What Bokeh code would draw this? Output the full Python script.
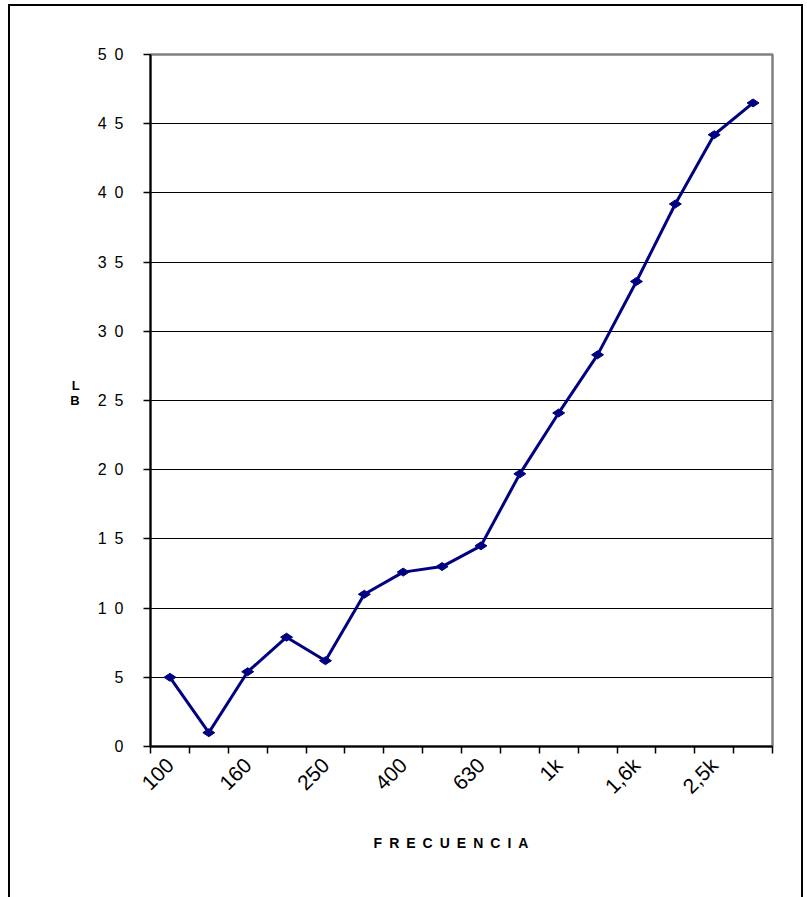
from bokeh.plotting import figure
from bokeh.models import Range1d, FixedTicker
from bokeh.embed import file_html
from bokeh.resources import INLINE
from math import pi

# ---- data ----
freq_labels = ["100", "125", "160", "200", "250", "315", "400", "500",
               "630", "800", "1k", "1,25k", "1,6k", "2k", "2,5k", "3,15k"]
levels = [5.0, 1.0, 5.4, 7.9, 6.2, 11.0, 12.6, 13.0,
          14.5, 19.7, 24.1, 28.3, 33.6, 39.2, 44.2, 46.5]
shown_x_labels = ["100", "160", "250", "400", "630", "1k", "1,6k", "2,5k"]
y_ticks = [0, 5, 10, 15, 20, 25, 30, 35, 40, 45, 50]
y_tick_labels = ["0", "5", "1\u20020", "1\u20025", "2\u20020", "2\u20025", "3\u20020",
                 "3\u20025", "4\u20020", "4\u20025", "5\u20020"]
x_title = "FRECUENCIA"
y_title = ["L", "B"]

n = len(freq_labels)
xc = [i + 0.5 for i in range(n)]
label_pos = [xc[freq_labels.index(s)] for s in shown_x_labels]

FONT = "Liberation Sans"

p = figure(width=804, height=897, x_range=Range1d(0, n), y_range=Range1d(0, 50),
           output_backend="svg", toolbar_location=None, tools="",
           min_border_left=150, min_border_right=32, min_border_top=54, min_border_bottom=151,
           background_fill_color="white", border_fill_color=None)
p.styles = {"box-shadow": ("inset 0 4px 0 0 #fff, inset 8px 0 0 0 #fff, inset -1px 0 0 0 #fff, "
                           "inset 0 6px 0 0 #000, inset 10px 0 0 0 #000, inset -3px 0 0 0 #000")}

p.outline_line_color = "#808080"
p.outline_line_width = 2.5

# x axis
p.xaxis.ticker = FixedTicker(ticks=label_pos, minor_ticks=list(range(n + 1)))
p.xaxis.major_label_overrides = {pos: s for pos, s in zip(label_pos, shown_x_labels)}
p.xaxis.major_tick_out = 0
p.xaxis.major_tick_in = 0
p.xaxis.minor_tick_out = 7
p.xaxis.minor_tick_in = 0
p.xaxis.minor_tick_line_color = "black"
p.xaxis.minor_tick_line_width = 1.5
p.xaxis.axis_line_color = "black"
p.xaxis.axis_line_width = 2
p.xaxis.major_label_orientation = pi / 4
p.xaxis.major_label_text_font = FONT
p.xaxis.major_label_text_font_size = "21px"
p.xaxis.major_label_text_color = "black"
p.xaxis.major_label_standoff = 8
p.xaxis.axis_label = "\u2002".join(x_title) + "\u2002\u2002\u2002"
p.xaxis.axis_label_text_font = FONT
p.xaxis.axis_label_text_font_size = "14px"
p.xaxis.axis_label_text_font_style = "bold"
p.xaxis.axis_label_text_color = "black"
p.xaxis.axis_label_standoff = 26
p.xgrid.visible = False

# y axis
p.yaxis.ticker = FixedTicker(ticks=y_ticks, minor_ticks=[])
p.yaxis.major_label_overrides = {t: s for t, s in zip(y_ticks, y_tick_labels)}
p.yaxis.major_tick_out = 7
p.yaxis.major_tick_in = 0
p.yaxis.major_tick_line_color = "black"
p.yaxis.major_tick_line_width = 1.5
p.yaxis.minor_tick_line_color = None
p.yaxis.axis_line_color = "black"
p.yaxis.axis_line_width = 2
p.yaxis.major_label_text_font = FONT
p.yaxis.major_label_text_font_size = "16px"
p.yaxis.major_label_text_color = "black"
p.yaxis.major_label_standoff = 20
p.yaxis.axis_label = "\n".join(y_title) + "\n\u2002"
p.yaxis.axis_label_text_font = FONT
p.yaxis.axis_label_text_font_size = "13px"
p.yaxis.axis_label_text_font_style = "bold"
p.yaxis.axis_label_text_color = "black"
p.yaxis.axis_label_text_line_height = 1.0
p.yaxis.axis_label_standoff = 15
try:
    p.yaxis.axis_label_orientation = "horizontal"
except Exception:
    pass

p.ygrid.ticker = FixedTicker(ticks=y_ticks[1:-1])
p.ygrid.grid_line_color = "black"
p.ygrid.grid_line_width = 1.2

# series
p.line(xc, levels, line_color="#000080", line_width=3)
p.scatter(xc, levels, marker="diamond", size=12, angle=pi / 2,
          fill_color="#000080", line_color="#000080")

open("out.html", "w").write(file_html(p, INLINE))
